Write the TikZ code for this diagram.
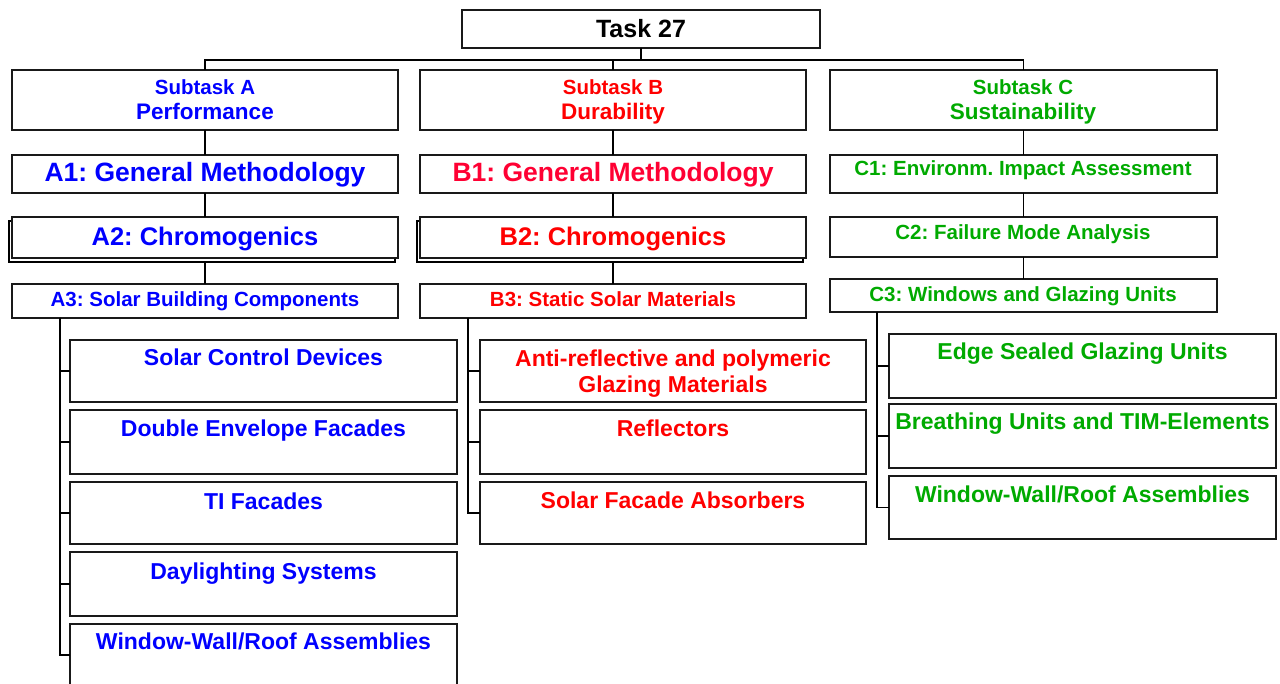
\documentclass[tikz,border=0pt]{standalone}
\usepackage{fontspec}
\setmainfont{Liberation Sans}
\frenchspacing
\definecolor{cA}{RGB}{0,0,255}
\definecolor{cB}{RGB}{255,0,0}
\definecolor{cBb}{RGB}{255,0,51}
\definecolor{cC}{RGB}{0,170,0}
\tikzset{
  box/.style={draw=black!90, line width=1.6pt, fill=white, inner sep=0pt, outer sep=0pt},
  shadowbox/.style={draw=black, line width=1.4pt, inner sep=0pt, outer sep=0pt},
  conn/.style={draw=black, line width=1.1pt},
  lbl/.style={inner sep=0pt, anchor=base},
}
\newcommand\bx[6][box]{\node[#1, minimum width={#5-#3}, minimum height={#6-#4}] (#2) at ({(#3+#5)/2},{(#4+#6)/2}) {};}
\newcommand\tx[5]{\node[lbl, text=#4, font=\bfseries\fontsize{#3}{#3}\selectfont\frenchspacing] (#1) at (#2) {#5};}
\begin{document}
\begin{tikzpicture}[x=1pt,y=-1pt]
\useasboundingbox (0,0) rectangle (1280,684);
\clip (0,0) rectangle (1280,684);
% boxes
\bx{task}{462}{10}{820}{48}
\bx{sA}{12}{70}{398}{130}
\bx{sB}{420}{70}{806}{130}
\bx{sC}{830}{70}{1217}{130}
\bx{a1}{12}{155}{398}{193}
\bx{b1}{420}{155}{806}{193}
\bx{c1}{830}{155}{1217}{193}
\bx[shadowbox]{a2s}{9}{221}{395}{262}
\bx{a2}{12}{217}{398}{258}
\bx[shadowbox]{b2s}{417}{221}{803}{262}
\bx{b2}{420}{217}{806}{258}
\bx{c2}{830}{217}{1217}{257}
\bx{a3}{12}{284}{398}{318}
\bx{b3}{420}{284}{806}{318}
\bx{c3}{830}{279}{1217}{312}
\bx{ac1}{70}{340}{457}{402}
\bx{ac2}{70}{410}{457}{474}
\bx{ac3}{70}{482}{457}{544}
\bx{ac4}{70}{552}{457}{616}
\bx{ac5}{70}{624}{457}{686}
\bx{bc1}{480}{340}{866}{402}
\bx{bc2}{480}{410}{866}{474}
\bx{bc3}{480}{482}{866}{544}
\bx{cc1}{889}{334}{1276}{398}
\bx{cc2}{889}{404}{1276}{468}
\bx{cc3}{889}{476}{1276}{539}
% connectors
\draw[conn] (task.south) -- ++(0,12) -| (sA.north);
\draw[conn] (task.south) -- ++(0,12) -| (sB.north);
\draw[conn] (task.south) -- ++(0,12) -| (sC.north);
\draw[conn] (sA) -- (a1);
\draw[conn] (a1) -- (a2);
\draw[conn] (a2s.south -| a2.south) -- (a3.north);
\draw[conn] (sB) -- (b1);
\draw[conn] (b1) -- (b2);
\draw[conn] (b2s.south -| b2.south) -- (b3.north);
\draw[conn] (sC) -- (c1);
\draw[conn] (c1) -- (c2);
\draw[conn] (c2) -- (c3);
\foreach \c in {ac1,ac2,ac3,ac4,ac5} \draw[conn] ([xshift=48pt]a3.south west) |- (\c.west);
\foreach \c in {bc1,bc2,bc3} \draw[conn] ([xshift=48pt]b3.south west) |- (\c.west);
\foreach \c in {cc1,cc2,cc3} \draw[conn] ([xshift=47pt]c3.south west) |- (\c.west);
% texts
\tx{tT}{641,38}{25}{black}{Task 27}
\tx{tsA1}{205,95}{20.5}{cA}{Subtask A}
\tx{tsA2}{205,120}{22.5}{cA}{Performance}
\tx{tsB1}{613,95}{20.5}{cB}{Subtask B}
\tx{tsB2}{613,120}{22.5}{cB}{Durability}
\tx{tsC1}{1023,95}{20.5}{cC}{Subtask C}
\tx{tsC2}{1023,120}{22.5}{cC}{Sustainability}
\tx{ta1}{205,182}{26.5}{cA}{A1: General Methodology}
\tx{tb1}{613,182}{26.5}{cBb}{B1: General Methodology}
\tx{tc1}{1023,176}{20.5}{cC}{C1: Environm. Impact Assessment}
\tx{ta2}{205,246}{25.5}{cA}{A2: Chromogenics}
\tx{tb2}{613,246}{25.5}{cB}{B2: Chromogenics}
\tx{tc2}{1023,240}{20.5}{cC}{C2: Failure Mode Analysis}
\tx{ta3}{205,307}{20.5}{cA}{A3: Solar Building Components}
\tx{tb3}{613,307}{20.5}{cB}{B3: Static Solar Materials}
\tx{tc3}{1023,302}{20.5}{cC}{C3: Windows and Glazing Units}
\tx{tac1}{263.5,366}{23}{cA}{Solar Control Devices}
\tx{tac2}{263.5,437}{23}{cA}{Double Envelope Facades}
\tx{tac3}{263.5,509}{23}{cA}{TI Facades}
\tx{tac4}{263.5,579}{23}{cA}{Daylighting Systems}
\tx{tac5}{263.5,649}{23}{cA}{Window-Wall/Roof Assemblies}
\tx{tbc1a}{673,367}{23}{cB}{Anti-reflective and polymeric}
\tx{tbc1b}{673,393}{23}{cB}{Glazing Materials}
\tx{tbc2}{673,437}{23}{cB}{Reflectors}
\tx{tbc3}{673,508}{23}{cB}{Solar Facade Absorbers}
\tx{tcc1}{1082.5,360}{23}{cC}{Edge Sealed Glazing Units}
\tx{tcc2}{1082.5,430}{23}{cC}{Breathing Units and TIM-Elements}
\tx{tcc3}{1082.5,502}{23}{cC}{Window-Wall/Roof Assemblies}
\end{tikzpicture}
\end{document}
